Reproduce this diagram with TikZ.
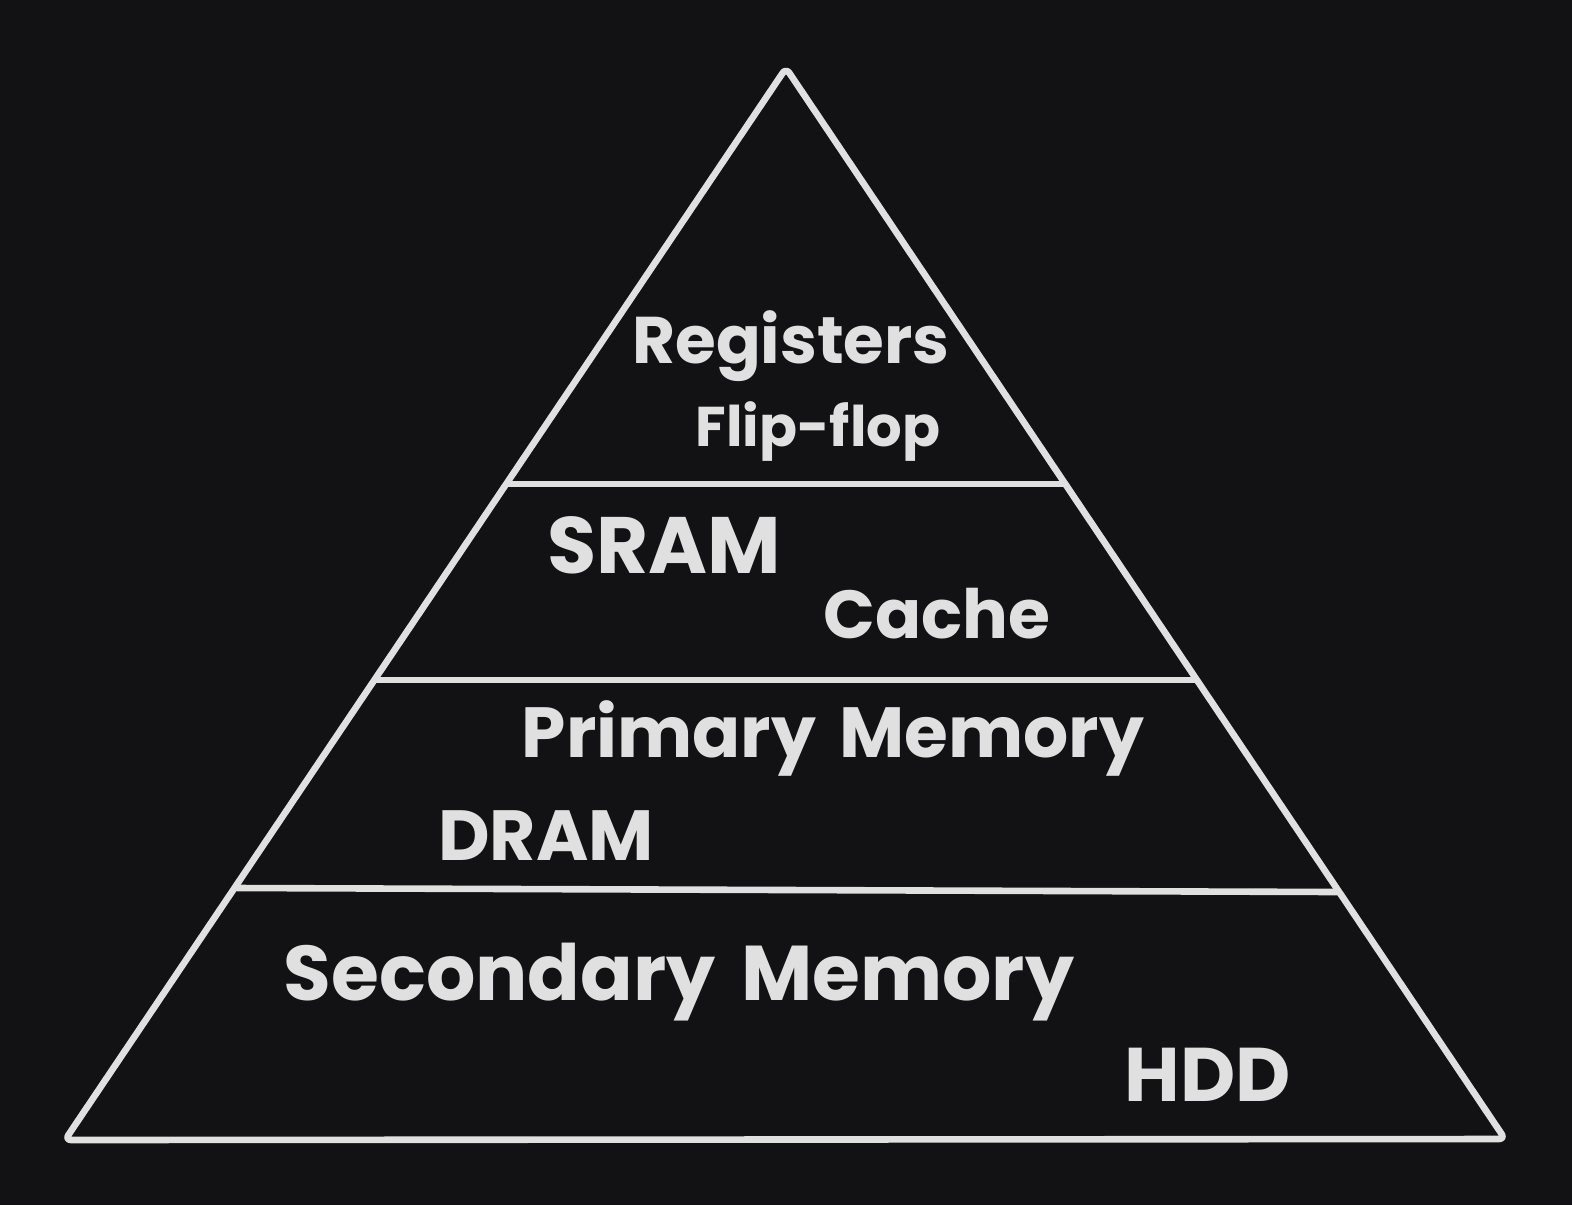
\documentclass[tikz,border=0pt]{standalone}
\usepackage{fontspec}
\setmainfont{Poppins}
\definecolor{bg}{HTML}{121214}
\definecolor{ink}{HTML}{E0E0E0}
\begin{document}
\begin{tikzpicture}[x=0.5pt,y=-0.5pt,
  edge/.style={draw=ink,line width=3.3pt,line cap=round,line join=round},
  lbl/.style={text=ink,anchor=base,inner sep=0pt,font=\bfseries}]
\fill[bg] (0,0) rectangle (1572,1205);
\useasboundingbox (0,0) rectangle (1572,1205);
\coordinate (apex) at (786,68);
\coordinate (bl) at (65,1140);
\coordinate (br) at (1505,1139);
\draw[edge,rounded corners=3pt] (apex) -- (br) -- (bl) -- cycle;
\coordinate (l1a) at (508,484); \coordinate (l1b) at (1064,484);
\coordinate (l2a) at (376,680); \coordinate (l2b) at (1195,680);
\coordinate (l3a) at (237,888); \coordinate (l3b) at (1337,892);
\draw[edge] (l1a) -- (l1b);
\draw[edge] (l2a) -- (l2b);
\draw[edge] (l3a) -- (l3b);
\node[lbl,font=\fontsize{33}{36}\selectfont\bfseries] (reg) at (791,363) {Registers};
\node[lbl,font=\fontsize{28}{32}\selectfont\bfseries] (ff) at (818,446) {Flip-flop};
\node[lbl,font=\fontsize{40}{44}\selectfont\bfseries] (sram) at (664,573) {SRAM};
\node[lbl,font=\fontsize{34}{40}\selectfont\bfseries] (cache) at (937,638) {Cache};
\node[lbl,font=\fontsize{35.5}{40}\selectfont\bfseries] (pm) at (833,757) {Primary\hspace{0.12em} Memory};
\node[lbl,font=\fontsize{35.5}{40}\selectfont\bfseries] (dram) at (546,860) {DRAM};
\node[lbl,font=\fontsize{38.8}{44}\selectfont\bfseries] (sm) at (679,1000) {Secondary\hspace{0.12em} Memory};
\node[lbl,font=\fontsize{38}{46}\selectfont\bfseries] (hdd) at (1208,1101) {HDD};
\end{tikzpicture}
\end{document}
